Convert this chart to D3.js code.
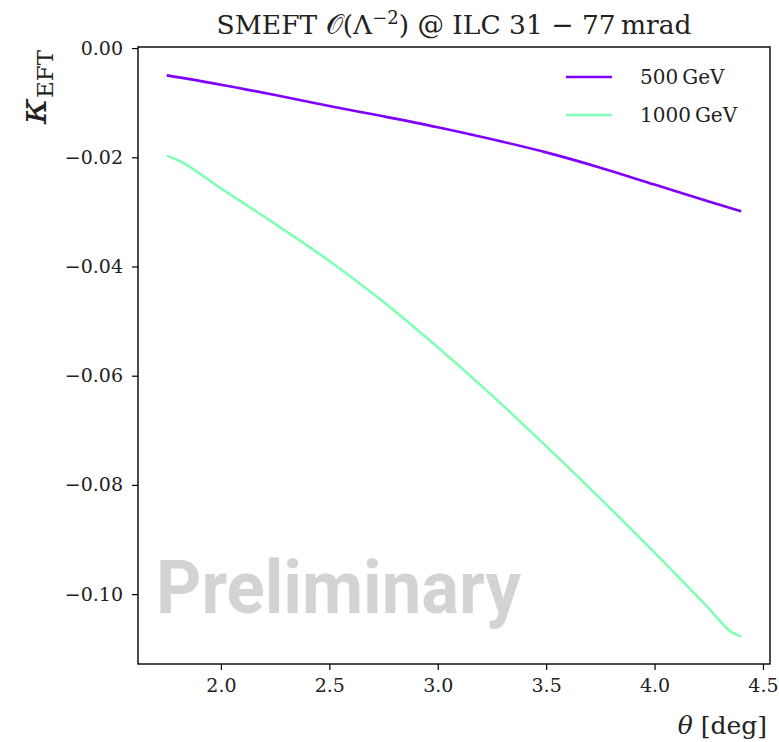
<!DOCTYPE html>
<html lang="en">
  <head>
    <meta charset="utf-8" />
    <script src="https://d3js.org/d3.v7.min.js"></script>
    <style>
      body { margin: 0; background: white; }
      svg text { font-family: "DejaVu Serif", "Liberation Serif", serif; }
    </style>
    <title>SMEFT kappa</title>
  </head>
  <body>
    <svg id="chart" width="779" height="742"></svg>

    <script>
      // values
      const theta = [1.75, 2.0, 2.25, 2.5, 2.75, 3.0, 3.25, 3.5, 3.75, 4.0, 4.25, 4.4];
      const kappa500 = [-0.0050, -0.0067, -0.0086, -0.0106, -0.0125, -0.0145, -0.0167, -0.0191, -0.0219, -0.0250, -0.0281, -0.0299];

      const theta1000 = [1.75, 1.8, 2.0, 2.25, 2.5, 2.75, 3.0, 3.25, 3.5, 3.75, 4.0, 4.25, 4.35, 4.4];
      const kappa1000 = [-0.0197, -0.0205, -0.0257, -0.0322, -0.0390, -0.0465, -0.0548, -0.0636, -0.0729, -0.0825, -0.0924, -0.1026, -0.1068, -0.1078];

      const seriesNames = ["500\u2009GeV", "1000\u2009GeV"];
      const seriesColors = ["#8000ff", "#80ffb4"];
      const xTicks = [2.0, 2.5, 3.0, 3.5, 4.0, 4.5];
      const yTicks = [0.0, -0.02, -0.04, -0.06, -0.08, -0.10];

      const svg = d3.select("svg#chart");
      const margin = { top: 47, right: 9, bottom: 78, left: 138 };
      const width = 779 - margin.left - margin.right;
      const height = 742 - margin.top - margin.bottom;

      const g = svg.append("g")
        .attr("transform", `translate(${margin.left},${margin.top})`);

      // matplotlib style 5% padding
      const x = d3.scaleLinear().domain([1.6175, 4.5325]).range([0, width]);
      const y = d3.scaleLinear().domain([-0.1128, 0.0002]).range([height, 0]);

      // watermark under the lines
      g.append("text")
        .attr("x", 18)
        .attr("y", 566)
        .attr("textLength", 365)
        .attr("lengthAdjust", "spacingAndGlyphs")
        .style("font-family", "Roboto, 'Liberation Sans', sans-serif")
        .style("font-weight", "bold")
        .style("font-size", "74px")
        .attr("fill", "#d3d3d3")
        .text("Preliminary");

      const line = d3.line()
        .x(d => x(d[0]))
        .y(d => y(d[1]))
        .curve(d3.curveMonotoneX);

      const data500 = theta.map((t, i) => [t, kappa500[i]]);
      const data1000 = theta1000.map((t, i) => [t, kappa1000[i]]);

      g.append("path")
        .datum(data1000)
        .attr("fill", "none")
        .attr("stroke", seriesColors[1])
        .attr("stroke-width", 2.6)
        .attr("d", line);

      g.append("path")
        .datum(data500)
        .attr("fill", "none")
        .attr("stroke", seriesColors[0])
        .attr("stroke-width", 2.6)
        .attr("d", line);

      // axes
      const xAxis = g.append("g")
        .attr("transform", `translate(0,${height})`)
        .call(d3.axisBottom(x).tickValues(xTicks).tickFormat(d3.format(".1f")).tickSize(6).tickPadding(9));
      const yAxis = g.append("g")
        .call(d3.axisLeft(y).tickValues(yTicks)
          .tickFormat(d => (d < 0 ? "\u2212" : "") + d3.format(".2f")(Math.abs(d)))
          .tickSize(6).tickPadding(9));

      [xAxis, yAxis].forEach(a => {
        a.attr("font-family", null).attr("font-size", null);
        a.select(".domain").remove();
        a.selectAll("line").attr("stroke", "black").attr("stroke-width", 1.2);
        a.selectAll("text")
          .attr("fill", "#222")
          .style("font-family", "'DejaVu Serif', serif")
          .style("font-size", "19px");
      });

      // frame
      g.append("rect")
        .attr("width", width)
        .attr("height", height)
        .attr("fill", "none")
        .attr("stroke", "black")
        .attr("stroke-width", 1.4);

      // legend
      const legend = g.append("g").attr("transform", "translate(428,30)");
      seriesNames.forEach((name, i) => {
        legend.append("line")
          .attr("x1", 0).attr("x2", 46)
          .attr("y1", i * 38).attr("y2", i * 38)
          .attr("stroke", seriesColors[i])
          .attr("stroke-width", 2.6);
        legend.append("text")
          .attr("x", 74)
          .attr("y", i * 38 + 7)
          .style("font-size", "20px")
          .attr("fill", "#222")
          .text(name);
      });

      // title
      const title = svg.append("text")
        .attr("x", margin.left + width / 2)
        .attr("y", 34)
        .attr("text-anchor", "middle")
        .style("font-size", "26.5px")
        .attr("fill", "#222");
      title.append("tspan").text("SMEFT ");
      title.append("tspan").text("\u{1D4AA}");
      title.append("tspan").text("(\u039B");
      title.append("tspan").attr("dy", -10).style("font-size", "18px").text("\u22122");
      title.append("tspan").attr("dy", 10).text(") @ ILC 31 \u2212 77\u2009mrad");

      // y label, top aligned
      const ylab = svg.append("text")
        .attr("transform", `translate(46,${margin.top + 3}) rotate(-90)`)
        .attr("text-anchor", "end")
        .attr("fill", "#222");
      ylab.append("tspan").style("font-style", "italic").style("font-size", "40px").text("\u03BA");
      ylab.append("tspan").attr("dy", 7).style("font-size", "23px").text("EFT");

      // x label, right aligned
      const xlab = svg.append("text")
        .attr("x", margin.left + width - 3)
        .attr("y", 734)
        .attr("text-anchor", "end")
        .style("font-size", "25px")
        .attr("fill", "#222");
      xlab.append("tspan").style("font-style", "italic").text("\u03B8");
      xlab.append("tspan").text(" [deg]");
    </script>
  </body>
</html>
